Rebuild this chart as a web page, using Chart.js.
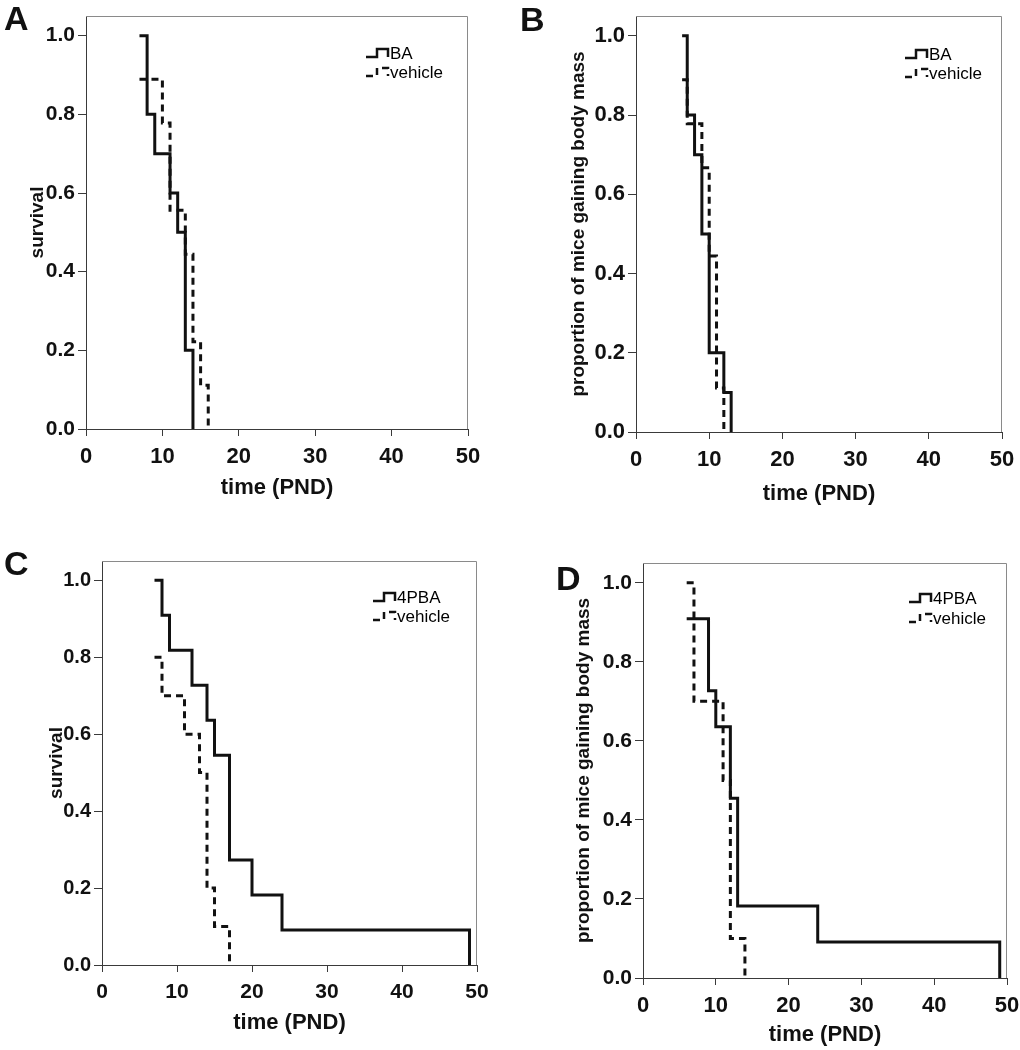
<!DOCTYPE html>
<html><head><meta charset="utf-8">
<script src="https://cdn.jsdelivr.net/npm/chart.js@4/dist/chart.umd.min.js"></script>
<style>
html,body{margin:0;padding:0;background:#fff}
body{width:1020px;height:1050px;position:relative;overflow:hidden;font-family:Arial,"Liberation Sans",sans-serif}
.panel{position:absolute;width:510px;height:525px}
.letter{position:absolute;font-weight:bold;font-size:34px;line-height:1;color:#111;font-family:Arial,"Liberation Sans",sans-serif}
</style></head><body>
<div class="panel" style="left:0;top:0"><canvas id="cA" width="510" height="525"></canvas></div>
<div class="panel" style="left:510px;top:0"><canvas id="cB" width="510" height="525"></canvas></div>
<div class="panel" style="left:0;top:525px"><canvas id="cC" width="510" height="525"></canvas></div>
<div class="panel" style="left:510px;top:525px"><canvas id="cD" width="510" height="525"></canvas></div>
<div class="letter" style="left:4px;top:1px">A</div>
<div class="letter" style="left:520px;top:2px">B</div>
<div class="letter" style="left:4px;top:546px">C</div>
<div class="letter" style="left:556px;top:561px">D</div>
<script>
// ---- tick labels ----
const timeTicks = [0, 10, 20, 30, 40, 50];
const propTicks = [0, 0.2, 0.4, 0.6, 0.8, 1.0];
const xTitle = 'time (PND)';
const survTitle = 'survival';
const massTitle = 'proportion of mice gaining body mass';

// ---- panel A: survival, BA vs vehicle ----
const aNames = ['BA', 'vehicle'];
const aBATime = [7, 8, 9, 11, 12, 13, 14];
const aBASurv = [1.0, 0.8, 0.7, 0.6, 0.5, 0.2, 0.0];
const aVehTime = [7, 10, 11, 13, 14, 15, 16];
const aVehSurv = [0.889, 0.778, 0.556, 0.444, 0.222, 0.111, 0.0];

// ---- panel B: body mass, BA vs vehicle ----
const bNames = ['BA', 'vehicle'];
const bBATime = [6.3, 7, 8, 9, 10, 12, 13];
const bBAProp = [1.0, 0.8, 0.7, 0.5, 0.2, 0.1, 0.0];
const bVehTime = [6.3, 7, 9, 10, 11, 12];
const bVehProp = [0.889, 0.778, 0.667, 0.444, 0.111, 0.0];

// ---- panel C: survival, 4PBA vs vehicle ----
const cNames = ['4PBA', 'vehicle'];
const cPBATime = [7, 8, 9, 12, 14, 15, 17, 20, 24, 49];
const cPBASurv = [1.0, 0.909, 0.818, 0.727, 0.636, 0.545, 0.273, 0.182, 0.091, 0.0];
const cVehTime = [7, 8, 11, 13, 14, 15, 17];
const cVehSurv = [0.8, 0.7, 0.6, 0.5, 0.2, 0.1, 0.0];

// ---- panel D: body mass, 4PBA vs vehicle ----
const dNames = ['4PBA', 'vehicle'];
const dPBATime = [6, 9, 10, 12, 13, 24, 49];
const dPBAProp = [0.909, 0.727, 0.636, 0.455, 0.182, 0.091, 0.0];
const dVehTime = [6, 7, 11, 12, 14];
const dVehProp = [1.0, 0.7, 0.5, 0.1, 0.0];

const FAM = 'Arial, "Liberation Sans", sans-serif';
const INK = '#111';
const AXIS = '#3a3a3a';

function series(times, vals) { return times.map((t, i) => ({x: t, y: vals[i]})); }

const framePlugin = {
  id: 'frame',
  beforeDatasetsDraw(chart) {
    const {ctx, chartArea: a} = chart;
    ctx.save();
    ctx.strokeStyle = '#8a8a8a';
    ctx.lineWidth = 1;
    ctx.beginPath();
    ctx.moveTo(a.left, a.top + 0.5);
    ctx.lineTo(a.right - 0.5, a.top + 0.5);
    ctx.lineTo(a.right - 0.5, a.bottom);
    ctx.stroke();
    ctx.restore();
  }
};

const stepLegend = {
  id: 'stepLegend',
  afterDatasetsDraw(chart, args, o) {
    const ctx = chart.ctx;
    chart.data.datasets.forEach((ds, i) => {
      const yy = o.y + i * o.gap;
      const x0 = o.x;
      ctx.save();
      ctx.strokeStyle = ds.borderColor;
      ctx.lineWidth = 2.5;
      ctx.lineCap = 'butt';
      ctx.setLineDash(ds.borderDash || []);
      ctx.beginPath();
      ctx.moveTo(x0, yy + 4);
      ctx.lineTo(x0 + 11, yy + 4);
      ctx.lineTo(x0 + 11, yy - 4);
      ctx.lineTo(x0 + 22, yy - 4);
      ctx.lineTo(x0 + 22, yy + 4);
      ctx.stroke();
      ctx.setLineDash([]);
      ctx.fillStyle = '#000';
      ctx.font = o.size + 'px ' + FAM;
      ctx.textBaseline = 'middle';
      ctx.textAlign = 'left';
      ctx.fillText(ds.label, x0 + 24, yy + 1);
      ctx.restore();
    });
  }
};

function makePanel(id, c) {
  const solid = {label: c.names[0], data: series(c.s[0], c.s[1]), borderColor: INK, borderWidth: 3,
    stepped: 'before', pointRadius: 0, fill: false, borderCapStyle: 'butt', borderJoinStyle: 'miter'};
  const dashed = {label: c.names[1], data: series(c.d[0], c.d[1]), borderColor: INK, borderWidth: 3,
    borderDash: [7, 5], stepped: 'before', pointRadius: 0, fill: false, borderCapStyle: 'butt', borderJoinStyle: 'miter'};
  new Chart(document.getElementById(id), {
    type: 'line',
    data: {datasets: [solid, dashed]},
    options: {
      responsive: false, animation: false, events: [],
      layout: {padding: {left: 0, top: c.pt, right: c.pr, bottom: 0}},
      plugins: {
        legend: {display: false}, tooltip: {enabled: false},
        stepLegend: {x: c.lx, y: c.ly, gap: c.lgap, size: 17}
      },
      scales: {
        x: {
          type: 'linear', min: 0, max: 50,
          afterBuildTicks: s => { s.ticks = timeTicks.map(v => ({value: v})); },
          afterFit: s => { s.height = c.hx; s.paddingLeft = 0; s.paddingRight = 0; },
          ticks: {font: {family: FAM, size: c.xfs, weight: 'bold'}, color: INK, padding: 8, maxRotation: 0, autoSkip: false},
          grid: {drawOnChartArea: false, drawTicks: true, tickLength: 7, color: AXIS, lineWidth: 1},
          border: {display: true, color: AXIS, width: 1},
          title: {display: true, text: xTitle, color: INK, font: {family: FAM, size: 22, weight: 'bold'}, padding: {top: 0, bottom: c.xtp}}
        },
        y: {
          type: 'linear', min: 0, max: 1.05,
          afterBuildTicks: s => { s.ticks = propTicks.map(v => ({value: v})); },
          afterFit: s => { s.width = c.wy; s.paddingTop = 0; s.paddingBottom = 0; },
          ticks: {font: {family: FAM, size: c.yfs, weight: 'bold'}, color: INK, padding: 3, autoSkip: false,
            callback: v => Number(v).toFixed(1)},
          grid: {drawOnChartArea: false, drawTicks: true, tickLength: 8, color: AXIS, lineWidth: 1},
          border: {display: true, color: AXIS, width: 1},
          title: {display: true, text: c.yTitle, color: INK, font: {family: FAM, size: 19, weight: 'bold'}, padding: {top: c.ytp, bottom: 0}}
        }
      }
    },
    plugins: [framePlugin, stepLegend]
  });
}

makePanel('cA', {names: aNames, s: [aBATime, aBASurv], d: [aVehTime, aVehSurv],
  pt: 16, pr: 42, hx: 96, wy: 86, xfs: 22, yfs: 21, xtp: 24, ytp: 26, yTitle: survTitle,
  lx: 366, ly: 53, lgap: 19});
makePanel('cB', {names: bNames, s: [bBATime, bBAProp], d: [bVehTime, bVehProp],
  pt: 16, pr: 18, hx: 93, wy: 126, xfs: 22, yfs: 22, xtp: 18, ytp: 57, yTitle: massTitle,
  lx: 395, ly: 54, lgap: 19});
makePanel('cC', {names: cNames, s: [cPBATime, cPBASurv], d: [cVehTime, cVehSurv],
  pt: 36, pr: 33, hx: 85, wy: 102, xfs: 21, yfs: 20, xtp: 14, ytp: 45, yTitle: survTitle,
  lx: 373, ly: 72, lgap: 19});
makePanel('cD', {names: dNames, s: [dPBATime, dPBAProp], d: [dVehTime, dVehProp],
  pt: 38, pr: 13, hx: 72, wy: 133, xfs: 22, yfs: 21, xtp: 2, ytp: 62, yTitle: massTitle,
  lx: 399, ly: 73, lgap: 20});
</script>
</body></html>
